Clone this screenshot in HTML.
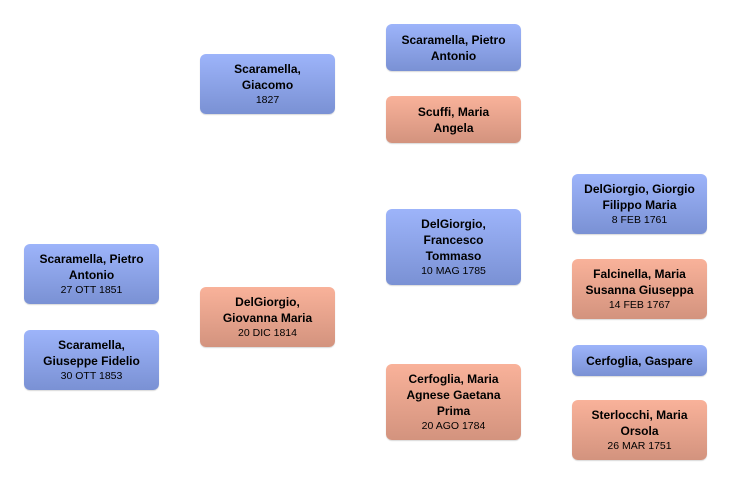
<!DOCTYPE html>
<html><head><meta charset="utf-8"><style>
body{margin:0;width:732px;height:485px;background:#fff;position:relative;font-family:"Liberation Sans","DejaVu Sans",sans-serif;overflow:hidden}
.b{position:absolute;width:135px;border-radius:6px;display:flex;flex-direction:column;justify-content:center;align-items:center;text-align:center;color:#000;box-shadow:0 1px 1px rgba(0,0,0,.15)}
.m{background:linear-gradient(#9db4fa,#7a91d4)}
.f{background:linear-gradient(#f9b29a,#d3937e)}
.n{font-weight:bold;font-size:12px;line-height:16px;padding:0 6px}
.d{font-size:10.5px;line-height:14px}
</style></head><body>
<div class="b m" style="left:24px;top:244px;height:60px"><div class="n">Scaramella, Pietro Antonio</div><div class="d">27 OTT 1851</div></div>
<div class="b m" style="left:24px;top:330px;height:60px"><div class="n">Scaramella, Giuseppe Fidelio</div><div class="d">30 OTT 1853</div></div>
<div class="b m" style="left:200px;top:54px;height:60px"><div class="n" style="padding:0 20px">Scaramella, Giacomo</div><div class="d">1827</div></div>
<div class="b f" style="left:200px;top:287px;height:60px"><div class="n" style="padding:0 12px">DelGiorgio, Giovanna Maria</div><div class="d">20 DIC 1814</div></div>
<div class="b m" style="left:386px;top:24px;height:47px"><div class="n">Scaramella, Pietro Antonio</div></div>
<div class="b f" style="left:386px;top:96px;height:47px"><div class="n" style="padding:0 20px">Scuffi, Maria Angela</div></div>
<div class="b m" style="left:386px;top:209px;height:76px"><div class="n" style="padding:0 25px">DelGiorgio, Francesco Tommaso</div><div class="d">10 MAG 1785</div></div>
<div class="b f" style="left:386px;top:364px;height:76px"><div class="n" style="padding:0 8px">Cerfoglia, Maria Agnese Gaetana Prima</div><div class="d">20 AGO 1784</div></div>
<div class="b m" style="left:572px;top:174px;height:60px"><div class="n" style="padding:0 4px">DelGiorgio, Giorgio Filippo Maria</div><div class="d">8 FEB 1761</div></div>
<div class="b f" style="left:572px;top:259px;height:60px"><div class="n" style="padding:0 4px">Falcinella, Maria Susanna Giuseppa</div><div class="d">14 FEB 1767</div></div>
<div class="b m" style="left:572px;top:345px;height:31px"><div class="n">Cerfoglia, Gaspare</div></div>
<div class="b f" style="left:572px;top:400px;height:60px"><div class="n" style="padding:0 10px">Sterlocchi, Maria Orsola</div><div class="d">26 MAR 1751</div></div>
</body></html>
